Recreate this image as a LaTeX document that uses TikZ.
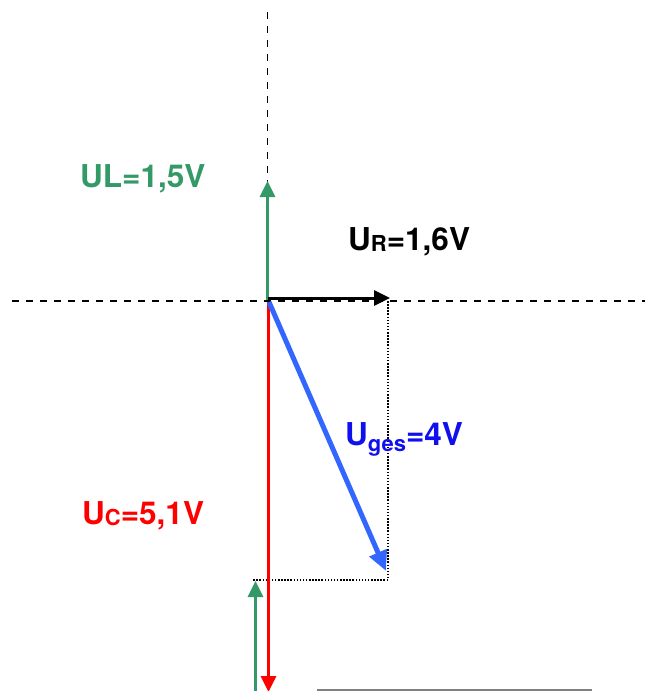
\documentclass[tikz,border=0pt]{standalone}
\usepackage{fontspec}
\setmainfont{TeX Gyre Heros}
\usetikzlibrary{arrows.meta}
\definecolor{lgreen}{HTML}{339966}
\definecolor{lblue}{HTML}{3366FF}
\definecolor{tblue}{HTML}{1010EE}
\definecolor{lred}{HTML}{FF0000}
\definecolor{lgray}{HTML}{808080}
\newcommand\lsub[2][-1.5pt]{\raisebox{#1}{\fontsize{22}{22}\selectfont #2}}
\begin{document}
\begin{tikzpicture}[x=1pt,y=-1pt,
  axis/.style={line width=1.4pt,dash pattern=on 7pt off 7pt},
  helper/.style={line width=1.6pt,dash pattern=on 1.5pt off 1.6pt},
  vec/.style={line width=3pt,-{Triangle[length=16pt,width=15pt]}},
  lab/.style={inner sep=0pt,anchor=base west,font=\bfseries\fontsize{31.5}{36}\selectfont}]
\useasboundingbox (0,0) rectangle (646,691);
% axes
\coordinate (vtop) at (267.5,12);
\coordinate (vbot) at (267.5,301);
\coordinate (hl) at (12,301);
\coordinate (hr) at (645,301);
\draw[axis] (vtop) -- (vbot);
\draw[axis] (hl) -- (hr);
% helper dotted lines
\coordinate (d1) at (388,301);
\coordinate (d2) at (388,580);
\coordinate (d3) at (253,580);
\draw[helper] (d1) -- (d2) -- (d3);
% vectors
\coordinate (o) at (267.5,300);
\coordinate (ulTip) at (267.5,181);
\coordinate (urS) at (267.5,298);
\coordinate (urTip) at (390,298);
\coordinate (ugS) at (269,302);
\coordinate (ugTip) at (386,571);
\coordinate (ucS) at (268.5,302);
\coordinate (ucTip) at (268.5,692);
\coordinate (ul2S) at (255.5,692);
\coordinate (ul2Tip) at (255.5,581);
\draw[vec,lgreen] (o) -- (ulTip);
\draw[vec,black] (urS) -- (urTip);
\draw[vec,lred] (ucS) -- (ucTip);
\draw[vec,lgreen] (ul2S) -- (ul2Tip);
\draw[line width=5pt,lblue,-{Triangle[length=20pt,width=18pt]}] (ugS) -- (ugTip);
% bottom gray line
\coordinate (g1) at (317,689.5);
\coordinate (g2) at (592,689.5);
\draw[lgray,line width=2pt] (g1) -- (g2);
% labels
\node[lab,lgreen] (tUL) at (80,187) {UL=1,5V};
\node[lab,black] (tUR) at (348,250) {U\lsub{R}=1,6V};
\node[lab,tblue] (tUG) at (345,445) {U\lsub[-6pt]{ges}=4V};
\node[lab,lred] (tUC) at (82,524) {U\lsub{C}=5,1V};
\end{tikzpicture}
\end{document}
